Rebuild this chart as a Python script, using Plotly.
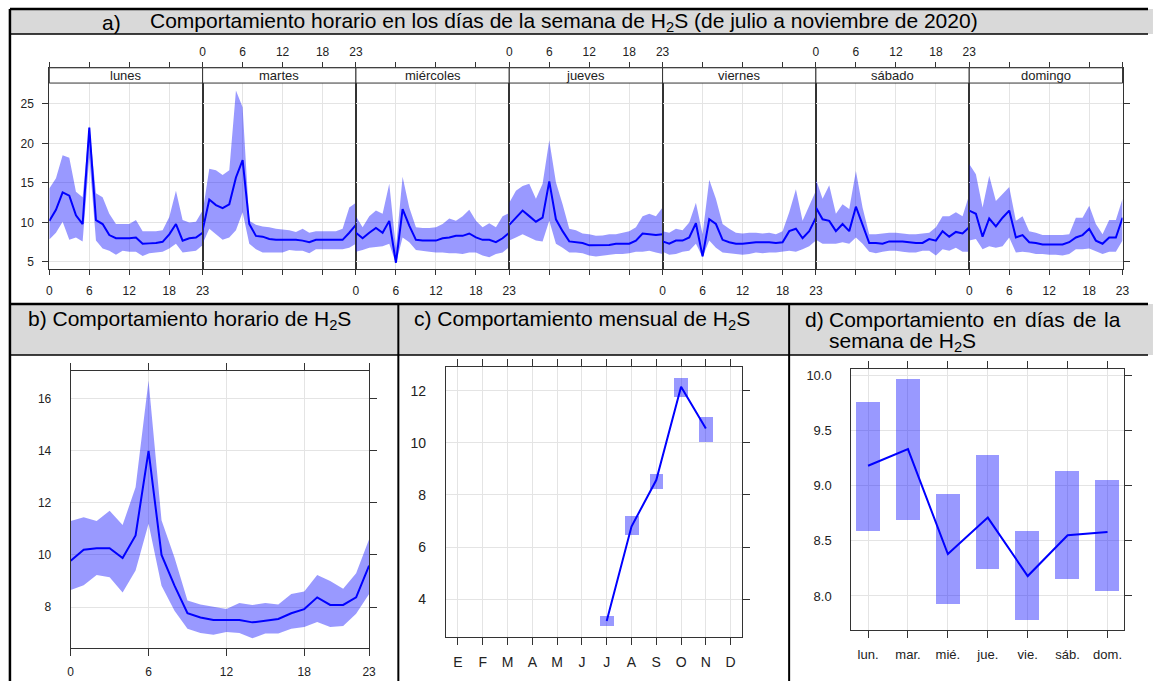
import plotly.graph_objects as go

# ---------------- DATA ----------------
HOURS = list(range(24))
DAYS = ["lunes", "martes", "miércoles", "jueves", "viernes", "sábado", "domingo"]

lunes_mean = [10.2, 11.6, 13.8, 13.4, 10.9, 9.8, 22.0, 10.3, 9.8, 8.4, 8.0, 8.0, 8.0, 8.1, 7.3, 7.35, 7.4, 7.55, 8.5, 9.8, 7.7, 8.0, 8.1, 8.7]
lunes_up = [14.3, 15.6, 18.5, 18.2, 13.9, 13.2, 22.2, 13.7, 13.2, 11.1, 9.8, 9.8, 9.8, 10.3, 8.9, 8.9, 8.9, 9.0, 10.7, 14.0, 10.3, 10.0, 10.1, 11.5]
lunes_lo = [7.85, 8.7, 10.1, 7.8, 8.1, 7.6, 18.2, 7.7, 6.7, 6.4, 5.9, 6.4, 6.3, 6.3, 5.75, 6.1, 6.2, 6.3, 6.7, 7.3, 6.2, 6.3, 6.4, 7.1]

martes_mean = [9.0, 12.9, 12.2, 11.8, 12.3, 15.7, 17.9, 9.8, 8.3, 8.2, 7.9, 7.8, 7.8, 7.8, 7.8, 7.7, 7.5, 7.8, 7.8, 7.8, 7.8, 7.8, 8.7, 9.7]
martes_up = [11.3, 16.8, 16.6, 16.0, 16.6, 26.7, 24.6, 10.2, 9.7, 9.5, 9.4, 9.2, 9.1, 9.0, 8.8, 9.2, 8.7, 8.9, 8.9, 8.9, 8.9, 9.2, 11.9, 12.5]
martes_lo = [7.3, 9.2, 8.5, 7.8, 8.1, 9.0, 11.3, 7.3, 6.6, 6.2, 6.2, 6.2, 6.2, 6.5, 6.4, 6.4, 6.1, 6.6, 6.6, 6.6, 6.6, 6.6, 6.8, 7.3]

miercoles_mean = [8.7, 8.0, 8.7, 9.3, 8.7, 10.2, 4.9, 11.7, 9.6, 7.8, 7.7, 7.7, 7.7, 8.0, 8.1, 8.3, 8.3, 8.6, 8.1, 7.8, 7.8, 7.5, 8.0, 8.7]
miercoles_up = [10.8, 9.4, 10.8, 11.5, 11.1, 14.9, 6.8, 15.8, 11.9, 9.4, 9.3, 9.3, 9.4, 9.8, 10.5, 10.2, 10.8, 11.6, 10.2, 9.4, 9.9, 9.4, 10.8, 11.2]
miercoles_lo = [6.3, 6.5, 6.8, 6.9, 7.0, 7.3, 4.8, 8.1, 7.5, 6.5, 6.4, 6.3, 6.2, 6.2, 6.1, 6.1, 6.0, 6.2, 6.2, 5.8, 5.6, 6.0, 6.2, 6.9]

jueves_mean = [9.7, 10.6, 11.5, 10.8, 10.1, 10.6, 15.2, 10.4, 8.9, 7.6, 7.5, 7.4, 7.1, 7.1, 7.1, 7.15, 7.3, 7.3, 7.3, 7.7, 8.6, 8.5, 8.4, 8.5]
jueves_up = [12.5, 14.0, 14.6, 14.9, 13.0, 14.9, 20.4, 15.1, 12.3, 9.2, 9.0, 8.6, 8.5, 8.3, 8.35, 8.5, 8.5, 8.7, 8.9, 9.4, 10.8, 11.1, 10.8, 11.9]
jueves_lo = [7.7, 8.1, 8.5, 8.1, 7.7, 7.6, 10.2, 7.3, 6.8, 6.2, 6.2, 6.1, 5.8, 5.7, 5.8, 5.9, 6.0, 6.0, 6.1, 6.3, 6.3, 6.4, 6.2, 6.0]

viernes_mean = [7.6, 7.3, 7.7, 7.7, 8.1, 9.9, 5.7, 10.4, 9.8, 7.8, 7.5, 7.3, 7.3, 7.4, 7.5, 7.5, 7.5, 7.4, 7.5, 8.9, 9.2, 8.0, 8.9, 10.6]
viernes_up = [8.9, 8.7, 9.2, 9.0, 10.0, 12.5, 8.5, 15.4, 13.0, 9.8, 9.2, 8.7, 8.6, 8.7, 8.7, 8.6, 8.7, 8.5, 8.9, 11.3, 14.2, 10.2, 12.1, 14.0]
viernes_lo = [6.3, 5.9, 6.0, 6.3, 6.4, 7.3, 5.6, 7.7, 6.8, 6.2, 6.1, 6.0, 5.9, 6.0, 6.2, 6.1, 6.2, 6.2, 6.3, 6.4, 6.3, 6.6, 7.0, 7.7]

sabado_mean = [11.9, 10.4, 10.2, 8.9, 9.8, 8.9, 12.0, 9.8, 7.4, 7.4, 7.3, 7.6, 7.6, 7.6, 7.5, 7.4, 7.4, 7.9, 7.7, 8.9, 8.2, 8.8, 8.6, 9.4]
sabado_up = [15.5, 13.0, 14.7, 11.1, 12.3, 11.7, 16.5, 11.9, 8.5, 8.5, 8.6, 8.7, 8.7, 8.6, 8.5, 8.5, 8.6, 8.7, 9.4, 10.8, 10.8, 11.3, 10.8, 13.5]
sabado_lo = [7.8, 7.3, 7.3, 7.3, 7.5, 7.3, 8.1, 7.3, 6.3, 6.1, 6.3, 6.4, 6.4, 6.3, 6.2, 6.2, 6.4, 6.4, 5.8, 6.6, 6.4, 6.8, 6.3, 6.3]

domingo_mean = [11.5, 11.1, 8.2, 10.5, 9.5, 10.6, 11.5, 8.1, 8.4, 7.5, 7.4, 7.2, 7.2, 7.2, 7.2, 7.5, 8.1, 8.4, 9.2, 7.7, 7.3, 8.1, 8.1, 10.6]
domingo_up = [17.4, 16.1, 11.9, 15.9, 12.7, 13.6, 14.5, 10.2, 10.8, 8.9, 8.7, 8.4, 8.4, 8.4, 8.4, 8.5, 10.6, 10.6, 12.1, 9.8, 8.5, 10.3, 10.3, 13.0]
domingo_lo = [7.7, 7.9, 6.6, 7.0, 6.8, 7.0, 8.1, 6.2, 6.3, 6.2, 6.0, 6.0, 5.9, 5.9, 5.8, 6.0, 6.6, 6.6, 6.7, 6.4, 6.0, 6.3, 6.3, 7.7]

hour_mean = [9.78, 10.2, 10.26, 10.26, 9.88, 10.75, 14.0, 10.0, 8.82, 7.76, 7.6, 7.5, 7.5, 7.5, 7.41, 7.48, 7.54, 7.76, 7.92, 8.37, 8.08, 8.08, 8.37, 9.59]
hour_up = [11.3, 11.45, 11.3, 11.7, 11.15, 12.6, 16.7, 11.33, 9.9, 8.25, 8.1, 8.0, 7.92, 8.15, 8.08, 8.15, 8.1, 8.5, 8.6, 9.23, 9.0, 8.7, 9.3, 10.6]
hour_lo = [8.65, 8.84, 9.23, 9.14, 8.56, 9.4, 11.2, 8.82, 7.86, 7.16, 7.0, 6.93, 7.04, 7.0, 6.8, 6.98, 6.98, 7.16, 7.23, 7.42, 7.23, 7.27, 7.74, 8.5]

MONTH_LABELS = ["E", "F", "M", "A", "M", "J", "J", "A", "S", "O", "N", "D"]
month_num = [7, 8, 9, 10, 11]
month_mean = [3.17, 6.79, 8.57, 12.15, 10.55]
month_up = [3.36, 7.2, 8.8, 12.5, 11.0]
month_lo = [2.98, 6.47, 8.23, 11.76, 10.03]

WEEK_LABELS = ["lun.", "mar.", "mié.", "jue.", "vie.", "sáb.", "dom."]
week_num = [1, 2, 3, 4, 5, 6, 7]
week_mean = [9.18, 9.33, 8.38, 8.71, 8.18, 8.55, 8.58]
week_up = [9.756, 9.967, 8.928, 9.277, 8.587, 9.136, 9.054]
week_lo = [8.593, 8.69, 7.925, 8.247, 7.786, 8.151, 8.05]

DAY_MEAN = [lunes_mean, martes_mean, miercoles_mean, jueves_mean, viernes_mean, sabado_mean, domingo_mean]
DAY_UP = [lunes_up, martes_up, miercoles_up, jueves_up, viernes_up, sabado_up, domingo_up]
DAY_LO = [lunes_lo, martes_lo, miercoles_lo, jueves_lo, viernes_lo, sabado_lo, domingo_lo]

# ---------------- STYLE / LAYOUT HELPERS ----------------
W, H = 1155, 682
def X(px): return px / W
def Y(py): return 1 - py / H

FONT = "Liberation Sans, Arial, sans-serif"
BAND = "rgba(0,0,255,0.4)"
LINE = dict(color="#0000ff", width=2)
GRID = "#e4e4e4"
AXC = "#333333"
TXT = "#222222"
HEAD = "#d9d9d9"

fig = go.Figure()
layout = {}

# ---------- panel a ----------
a_left, a_w = 46.7, 154.66
a_top, a_strip, a_bot = 67.0, 82.3, 268.3
ppu = 7.92
ya_lo = 5 - (a_bot - 261.7) / ppu
ya_hi = 25 + (103.3 - a_top) / ppu

for i in range(7):
    n = i + 1
    xa, ya = f"x{n}", f"y{n}"
    fig.add_trace(go.Scatter(x=HOURS + HOURS[::-1], y=DAY_UP[i] + DAY_LO[i][::-1],
                             fill="toself", fillcolor=BAND, mode="lines", line=dict(width=0),
                             xaxis=xa, yaxis=ya, hoverinfo="skip"))
    fig.add_trace(go.Scatter(x=HOURS, y=DAY_MEAN[i], mode="lines", line=LINE, xaxis=xa, yaxis=ya))
    x0 = a_left + i * a_w
    top = (i % 2 == 1)
    layout[f"xaxis{n}"] = dict(domain=[X(x0), X(x0 + a_w)], range=[0, 23], anchor=ya,
                               tickvals=[0, 6, 12, 18, 23], ticks="outside", ticklen=5, tickcolor=AXC,
                               showline=True, linecolor=AXC, linewidth=1, mirror="ticks",
                               side="top" if top else "bottom",
                               showgrid=True, gridcolor=GRID, zeroline=False,
                               tickfont=dict(size=12, color=TXT, family=FONT),
                               ticklabelstandoff=1 if top else 6)
    ydict = dict(domain=[Y(a_bot), Y(a_top)], range=[ya_lo, ya_hi], anchor=xa,
                 tickvals=[5, 10, 15, 20, 25], showgrid=True, gridcolor=GRID, zeroline=False,
                 showline=True, linecolor=AXC, linewidth=1, mirror=True,
                 tickfont=dict(size=12, color=TXT, family=FONT))
    if i == 0:
        ydict.update(ticks="outside", ticklen=6, tickcolor=AXC, showticklabels=True, ticklabelstandoff=6)
    elif i == 6:
        ydict.update(side="right", ticks="outside", ticklen=6, tickcolor=AXC, showticklabels=False)
    else:
        ydict.update(ticks="", showticklabels=False)
    layout[f"yaxis{n}"] = ydict

# ---------- helper for single panels ----------
def panel(nx, nyb, nyr, xdom, ydom, xrange, yrange, xt, xtt, yt, ytt, fs):
    layout[f"xaxis{nx}"] = dict(domain=[X(xdom[0]), X(xdom[1])], range=xrange, anchor=f"y{nyb}",
                                tickvals=xt, ticktext=xtt, ticks="outside", ticklen=7, tickcolor=AXC,
                                showline=True, linecolor=AXC, linewidth=1, mirror="ticks",
                                showgrid=True, gridcolor=GRID, zeroline=False,
                                tickfont=dict(size=fs, color=TXT, family=FONT), ticklabelstandoff=5)
    layout[f"yaxis{nyb}"] = dict(domain=[Y(ydom[1]), Y(ydom[0])], range=yrange, anchor=f"x{nx}",
                                 tickvals=yt, ticktext=ytt, ticks="outside", ticklen=8,
                                 tickcolor="rgba(0,0,0,0)",
                                 showline=True, linecolor=AXC, linewidth=1, mirror=True,
                                 showgrid=True, gridcolor=GRID, zeroline=False,
                                 tickfont=dict(size=fs, color=TXT, family=FONT), ticklabelstandoff=8)
    layout[f"yaxis{nyr}"] = dict(overlaying=f"y{nyb}", side="right", anchor=f"x{nx}", range=yrange,
                                 tickvals=yt, ticks="outside", ticklen=7, tickcolor=AXC,
                                 showticklabels=False, showgrid=False, showline=False, zeroline=False)

# ---------- panel b ----------
fig.add_trace(go.Scatter(x=HOURS + HOURS[::-1], y=hour_up + hour_lo[::-1], fill="toself",
                         fillcolor=BAND, mode="lines", line=dict(width=0), xaxis="x8", yaxis="y8",
                         hoverinfo="skip"))
fig.add_trace(go.Scatter(x=HOURS, y=hour_mean, mode="lines", line=LINE, xaxis="x8", yaxis="y9"))
panel(8, 8, 9, (68.3, 369.3), (371.0, 649.3), [0, 23], [6.41, 17.07],
      [0, 6, 12, 18, 23], ["0", "6", "12", "18", "23"], [8, 10, 12, 14, 16], ["8", "10", "12", "14", "16"], 12)

# ---------- panel c ----------
fig.add_trace(go.Bar(x=month_num, y=[u - l for u, l in zip(month_up, month_lo)], base=month_lo,
                     width=0.56, marker=dict(color=BAND, line=dict(width=0)), xaxis="x10", yaxis="y10"))
fig.add_trace(go.Scatter(x=month_num, y=month_mean, mode="lines", line=LINE, xaxis="x10", yaxis="y11"))
panel(10, 10, 11, (446.7, 745.0), (366.7, 637.7), [0.51, 12.44], [2.56, 12.92],
      list(range(1, 13)), MONTH_LABELS, [4, 6, 8, 10, 12], ["4", "6", "8", "10", "12"], 14)

# ---------- panel d ----------
fig.add_trace(go.Bar(x=week_num, y=[u - l for u, l in zip(week_up, week_lo)], base=week_lo,
                     width=0.6, marker=dict(color=BAND, line=dict(width=0)), xaxis="x12", yaxis="y12"))
fig.add_trace(go.Scatter(x=week_num, y=week_mean, mode="lines", line=LINE, xaxis="x12", yaxis="y13"))
panel(12, 12, 13, (855.7, 1130.7), (369.0, 631.0), [0.58, 7.41], [7.69, 10.057],
      week_num, WEEK_LABELS, [8.0, 8.5, 9.0, 9.5, 10.0], ["8.0", "8.5", "9.0", "9.5", "10.0"], 13)

# ---------------- shapes (table frame, headers, strips) ----------------
shapes = []
def rect(x0, y0, x1, y1, fill=None, lc="black", lw=1, layer="above"):
    shapes.append(dict(type="rect", xref="paper", yref="paper", x0=X(x0), x1=X(x1), y0=Y(y1), y1=Y(y0),
                       fillcolor=fill if fill else "rgba(0,0,0,0)", line=dict(color=lc, width=lw), layer=layer))
def line(x0, y0, x1, y1, lw=2, c="black"):
    shapes.append(dict(type="line", xref="paper", yref="paper", x0=X(x0), x1=X(x1), y0=Y(y0), y1=Y(y1),
                       line=dict(color=c, width=lw), layer="above"))

rect(7, 8, 1160, 33, fill=HEAD, lw=0, layer="below")
line(7, 8, 1155, 8, lw=2.5)
line(7, 33, 1155, 33, lw=1.5)
rect(7, 304, 398.5, 355, fill=HEAD, lw=0, layer="below")
rect(399.5, 304, 793, 355, fill=HEAD, lw=0, layer="below")
rect(794, 304, 1160, 355, fill=HEAD, lw=0, layer="below")
line(7, 304, 1155, 304, lw=2.5)
line(7, 355, 1155, 355, lw=1.5)
line(7, 8, 7, 682, lw=2.5)
line(398.8, 304, 398.8, 682, lw=2)
line(793, 304, 793, 682, lw=2)

for i in range(7):
    x0 = a_left + i * a_w
    rect(x0, a_top, x0 + a_w, a_strip, fill="white", lc=AXC, lw=1)

# ---------------- annotations ----------------
ann = []
def text(t, x, y, size=21, xanchor="left"):
    ann.append(dict(text=t, x=X(x), y=Y(y), xref="paper", yref="paper", showarrow=False,
                    xanchor=xanchor, yanchor="middle", font=dict(family=FONT, size=size, color="black")))

text("a)", 98, 21.5)
text("Comportamiento horario en los días de la semana de H<sub>2</sub>S (de julio a noviembre de 2020)", 146.7, 21.5)
text("b) Comportamiento horario de H<sub>2</sub>S", 22.7, 319.5)
text("c) Comportamiento mensual de H<sub>2</sub>S", 413, 319.5)
for w, xx in [("d)", 806.7), ("Comportamiento", 830.7), ("en", 996.7), ("días", 1029.3), ("de", 1077.3), ("la", 1108.3)]:
    text(w, xx, 319.5)
text("semana de H<sub>2</sub>S", 830.7, 342.5)

for i, d in enumerate(DAYS):
    x0 = a_left + i * a_w
    ann.append(dict(text=d, x=X(x0 + a_w / 2), y=Y((a_top + a_strip) / 2), xref="paper", yref="paper",
                    showarrow=False, xanchor="center", yanchor="middle",
                    font=dict(family=FONT, size=13, color=TXT)))

layout.update(width=W, height=H, margin=dict(l=0, r=0, t=0, b=0), paper_bgcolor="white",
              plot_bgcolor="white", showlegend=False, shapes=shapes, annotations=ann,
              font=dict(family=FONT, size=12, color=TXT), bargap=0)
fig.update_layout(**layout)
fig.write_html("out.html")
